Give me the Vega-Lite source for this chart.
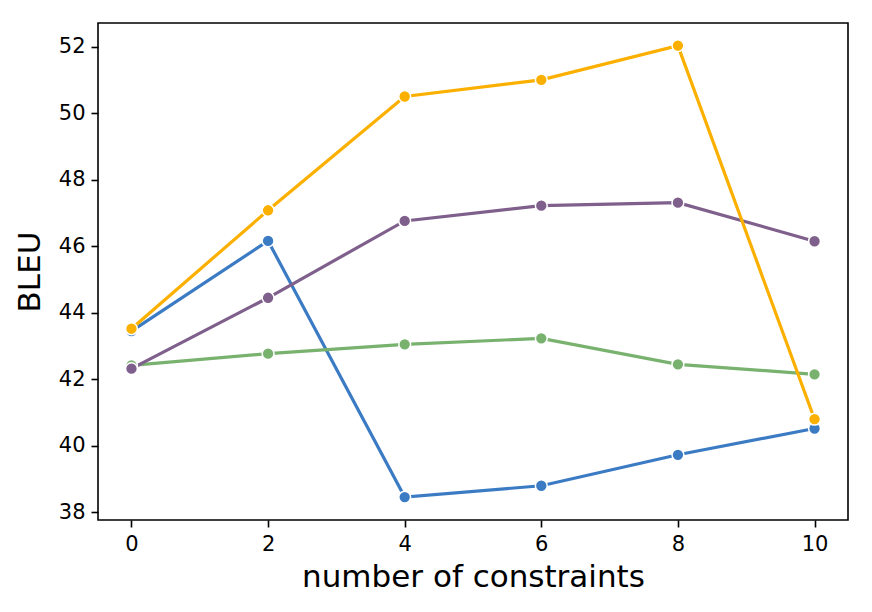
{
  "$schema": "https://vega.github.io/schema/vega-lite/v6.json",
  "width": 750,
  "height": 497,
  "autosize": "none",
  "padding": {"left": 98, "top": 23, "right": 24, "bottom": 92},
  "background": "white",
  "data": {
    "values": [
      {"series": "a", "constraints": 0, "bleu": 43.45},
      {"series": "a", "constraints": 2, "bleu": 46.16},
      {"series": "a", "constraints": 4, "bleu": 38.46},
      {"series": "a", "constraints": 6, "bleu": 38.8},
      {"series": "a", "constraints": 8, "bleu": 39.73},
      {"series": "a", "constraints": 10, "bleu": 40.52},
      {"series": "b", "constraints": 0, "bleu": 42.42},
      {"series": "b", "constraints": 2, "bleu": 42.77},
      {"series": "b", "constraints": 4, "bleu": 43.05},
      {"series": "b", "constraints": 6, "bleu": 43.23},
      {"series": "b", "constraints": 8, "bleu": 42.45},
      {"series": "b", "constraints": 10, "bleu": 42.15},
      {"series": "c", "constraints": 0, "bleu": 42.32},
      {"series": "c", "constraints": 2, "bleu": 44.45},
      {"series": "c", "constraints": 4, "bleu": 46.76},
      {"series": "c", "constraints": 6, "bleu": 47.22},
      {"series": "c", "constraints": 8, "bleu": 47.31},
      {"series": "c", "constraints": 10, "bleu": 46.15},
      {"series": "d", "constraints": 0, "bleu": 43.52},
      {"series": "d", "constraints": 2, "bleu": 47.08},
      {"series": "d", "constraints": 4, "bleu": 50.5},
      {"series": "d", "constraints": 6, "bleu": 51.0},
      {"series": "d", "constraints": 8, "bleu": 52.03},
      {"series": "d", "constraints": 10, "bleu": 40.8}
    ]
  },
  "mark": {
    "type": "line",
    "strokeWidth": 3.2,
    "point": {"filled": true, "size": 140, "stroke": "white", "strokeWidth": 1.5, "opacity": 1}
  },
  "encoding": {
    "x": {
      "field": "constraints",
      "type": "quantitative",
      "title": "number of constraints",
      "scale": {"domain": [-0.49, 10.49], "nice": false, "zero": false},
      "axis": {"values": [0, 2, 4, 6, 8, 10]}
    },
    "y": {
      "field": "bleu",
      "type": "quantitative",
      "title": "BLEU",
      "scale": {"domain": [37.77, 52.71], "nice": false, "zero": false},
      "axis": {"values": [38, 40, 42, 44, 46, 48, 50, 52]}
    },
    "color": {
      "field": "series",
      "type": "nominal",
      "legend": null,
      "scale": {"domain": ["a", "b", "c", "d"], "range": ["#3b7bc4", "#78b26e", "#7f5f8b", "#fbb000"]}
    }
  },
  "config": {
    "view": {"stroke": "black", "strokeWidth": 1.6},
    "axis": {
      "grid": false,
      "domain": false,
      "tickColor": "black",
      "tickSize": 7,
      "tickWidth": 1.6,
      "labelColor": "black",
      "labelFont": "DejaVu Sans",
      "labelFontSize": 21,
      "labelPadding": 6,
      "titleFont": "DejaVu Sans",
      "titleFontSize": 31,
      "titleFontWeight": "normal",
      "titleColor": "black"
    },
    "axisX": {"titlePadding": 8},
    "axisY": {"titlePadding": 12}
  }
}
